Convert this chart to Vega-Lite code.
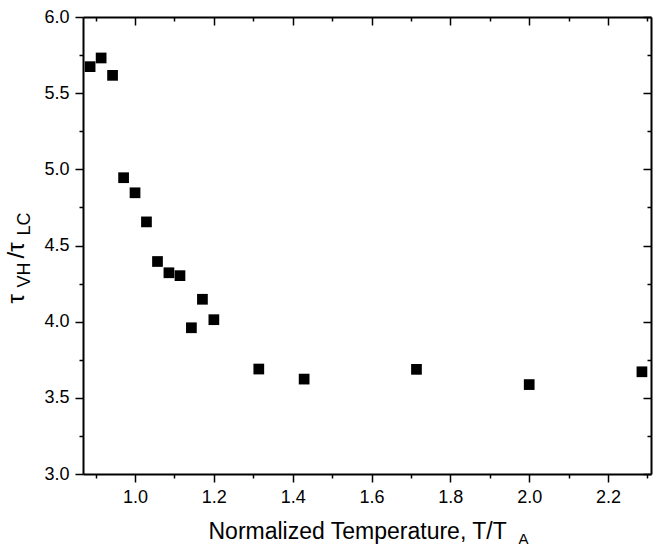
{
  "$schema": "https://vega.github.io/schema/vega-lite/v6.json",
  "autosize": "none",
  "width": 568,
  "height": 457,
  "padding": {"left": 83, "top": 17, "right": 9, "bottom": 72},
  "background": "white",
  "config": {
    "view": {"stroke": null},
    "axis": {
      "labelFont": "Liberation Sans",
      "titleFont": "Liberation Sans",
      "labelColor": "black",
      "titleColor": "black",
      "titleFontWeight": "normal",
      "tickColor": "black",
      "domainColor": "black",
      "tickWidth": 1.5,
      "domainWidth": 2,
      "grid": false,
      "labelFontSize": 18
    }
  },
  "data": {
    "values": [
      {"t": 0.886, "r": 5.674},
      {"t": 0.914, "r": 5.731},
      {"t": 0.943, "r": 5.617},
      {"t": 0.971, "r": 4.945},
      {"t": 1.0, "r": 4.846},
      {"t": 1.029, "r": 4.655},
      {"t": 1.057, "r": 4.395},
      {"t": 1.086, "r": 4.321},
      {"t": 1.114, "r": 4.302},
      {"t": 1.143, "r": 3.96},
      {"t": 1.171, "r": 4.147},
      {"t": 1.2, "r": 4.013},
      {"t": 1.314, "r": 3.689},
      {"t": 1.429, "r": 3.623},
      {"t": 1.714, "r": 3.687},
      {"t": 2.0, "r": 3.587},
      {"t": 2.286, "r": 3.671}
    ]
  },
  "resolve": {"axis": {"x": "independent", "y": "independent"}},
  "layer": [
    {
      "mark": {"type": "square", "size": 115, "color": "black", "opacity": 1},
      "encoding": {
        "x": {
          "field": "t", "type": "quantitative",
          "scale": {"domain": [0.868, 2.309], "nice": false, "zero": false},
          "axis": {
            "orient": "bottom", "values": [1.0, 1.2, 1.4, 1.6, 1.8, 2.0, 2.2],
            "format": ".1f", "tickSize": 8, "labelPadding": 6,
            "title": "Normalized Temperature, T/T", "titleFontSize": 23,
            "titleX": 125, "titleY": 64, "titleAlign": "left", "titleBaseline": "alphabetic", "titleAngle": 0
          }
        },
        "y": {
          "field": "r", "type": "quantitative",
          "scale": {"domain": [3, 6], "nice": false, "zero": false},
          "axis": {
            "orient": "left", "values": [3.0, 3.5, 4.0, 4.5, 5.0, 5.5, 6.0],
            "format": ".1f", "tickSize": 8, "labelPadding": 6,
            "title": "τ", "titleFontSize": 24,
            "titleX": -60, "titleY": 286, "titleAlign": "left", "titleBaseline": "alphabetic", "titleAngle": -90
          }
        }
      }
    },
    {
      "mark": {"type": "square", "size": 115, "opacity": 0},
      "encoding": {
        "x": {
          "field": "t", "type": "quantitative",
          "scale": {"domain": [0.868, 2.309], "nice": false, "zero": false},
          "axis": {
            "orient": "bottom", "values": [0.9, 1.1, 1.3, 1.5, 1.7, 1.9, 2.1, 2.3],
            "labels": false, "domain": false, "tickSize": 4,
            "title": "A", "titleFontSize": 15,
            "titleX": 435, "titleY": 69, "titleAlign": "left", "titleBaseline": "alphabetic", "titleAngle": 0
          }
        },
        "y": {
          "field": "r", "type": "quantitative",
          "scale": {"domain": [3, 6], "nice": false, "zero": false},
          "axis": {
            "orient": "left", "values": [3.25, 3.75, 4.25, 4.75, 5.25, 5.75],
            "labels": false, "domain": false, "tickSize": 4,
            "title": "VH", "titleFontSize": 18,
            "titleX": -54, "titleY": 270, "titleAlign": "left", "titleBaseline": "alphabetic", "titleAngle": -90
          }
        }
      }
    },
    {
      "mark": {"type": "square", "size": 115, "opacity": 0},
      "encoding": {
        "x": {
          "field": "t", "type": "quantitative",
          "scale": {"domain": [0.868, 2.309], "nice": false, "zero": false},
          "axis": {
            "orient": "top", "values": [1.0, 1.2, 1.4, 1.6, 1.8, 2.0, 2.2],
            "labels": false, "tickSize": -8, "title": null
          }
        },
        "y": {
          "field": "r", "type": "quantitative",
          "scale": {"domain": [3, 6], "nice": false, "zero": false},
          "axis": {
            "orient": "right", "values": [3.0, 3.5, 4.0, 4.5, 5.0, 5.5, 6.0],
            "labels": false, "tickSize": -8,
            "title": "/τ", "titleFontSize": 24,
            "titleX": -628, "titleY": 241, "titleAlign": "left", "titleBaseline": "alphabetic", "titleAngle": -90
          }
        }
      }
    },
    {
      "mark": {"type": "square", "size": 115, "opacity": 0},
      "encoding": {
        "x": {
          "field": "t", "type": "quantitative",
          "scale": {"domain": [0.868, 2.309], "nice": false, "zero": false},
          "axis": {
            "orient": "top", "values": [0.9, 1.1, 1.3, 1.5, 1.7, 1.9, 2.1, 2.3],
            "labels": false, "domain": false, "tickSize": -4, "title": null
          }
        },
        "y": {
          "field": "r", "type": "quantitative",
          "scale": {"domain": [3, 6], "nice": false, "zero": false},
          "axis": {
            "orient": "right", "values": [3.25, 3.75, 4.25, 4.75, 5.25, 5.75],
            "labels": false, "domain": false, "tickSize": -4,
            "title": "LC", "titleFontSize": 18,
            "titleX": -622, "titleY": 218, "titleAlign": "left", "titleBaseline": "alphabetic", "titleAngle": -90
          }
        }
      }
    }
  ]
}
